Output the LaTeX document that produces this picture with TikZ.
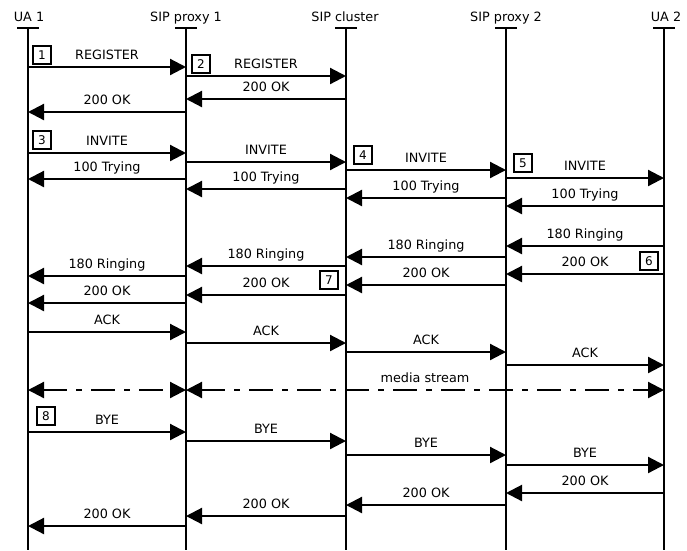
\documentclass[tikz,border=0pt]{standalone}
\usepackage{fontspec}
\setmainfont{DejaVu Sans}
\usetikzlibrary{arrows.meta}
\newcommand{\msgfont}{\fontsize{12.8}{15}\selectfont}
\newcommand{\numfont}{\fontsize{12}{14}\selectfont}
\tikzset{
  lifeline/.style={line width=2pt},
  topbar/.style={line width=2pt},
  msg/.style={-{Triangle[length=16pt,width=16pt]}, line width=2.2pt},
  stream/.style={{Triangle[length=16pt,width=16pt]}-{Triangle[length=16pt,width=16pt]}, line width=2.2pt, dash pattern=on 24pt off 9pt on 6pt off 9pt},
  msglabel/.style={midway, anchor=base, yshift=8pt, inner sep=0pt, font=\msgfont},
  actor/.style={anchor=base, inner sep=0pt, font=\msgfont},
  stepnum/.style={draw, line width=2pt, minimum size=18pt, inner sep=0pt, font=\numfont}
}
\begin{document}
\begin{tikzpicture}[x=1pt,y=-1pt]
  \useasboundingbox (0,0) rectangle (687,550);
  \coordinate (bottom) at (0,550);

  % parties
  \coordinate (ua1) at (28,28);
  \coordinate (px1) at (186,28);
  \coordinate (cl) at (346,28);
  \coordinate (px2) at (506,28);
  \coordinate (ua2) at (664,28);
  \node[actor] (ua1name) at (29,21) {UA 1};
  \node[actor] (px1name) at (186,21) {SIP proxy 1};
  \node[actor] (clname) at (345,21) {SIP cluster};
  \node[actor] (px2name) at (506,21) {SIP proxy 2};
  \node[actor] (ua2name) at (666,21) {UA 2};

  \draw[topbar] ([xshift=-11pt]ua1) -- ([xshift=11pt]ua1);
  \draw[topbar] ([xshift=-11pt]px1) -- ([xshift=11pt]px1);
  \draw[topbar] ([xshift=-11pt]cl) -- ([xshift=11pt]cl);
  \draw[topbar] ([xshift=-11pt]px2) -- ([xshift=11pt]px2);
  \draw[topbar] ([xshift=-11pt]ua2) -- ([xshift=11pt]ua2);
  \draw[lifeline] (ua1) -- (ua1 |- bottom);
  \draw[lifeline] (px1) -- (px1 |- bottom);
  \draw[lifeline] (cl) -- (cl |- bottom);
  \draw[lifeline] (px2) -- (px2 |- bottom);
  \draw[lifeline] (ua2) -- (ua2 |- bottom);

  % step numbers
  \node[stepnum] (n1) at (42,55) {1};
  \node[stepnum] (n2) at (201,64) {2};
  \node[stepnum] (n3) at (42,140) {3};
  \node[stepnum] (n4) at (363,155) {4};
  \node[stepnum] (n5) at (523,163) {5};
  \node[stepnum] (n6) at (649,261) {6};
  \node[stepnum] (n7) at (329,280) {7};
  \node[stepnum] (n8) at (46,416) {8};

  % registration
  \draw[msg] (ua1 |- 0,67) -- (px1 |- 0,67) node[msglabel] {REGISTER};
  \draw[msg] (px1 |- 0,76) -- (cl |- 0,76) node[msglabel] {REGISTER};
  \draw[msg] (cl |- 0,99) -- (px1 |- 0,99) node[msglabel] {200 OK};
  \draw[msg] (px1 |- 0,112) -- (ua1 |- 0,112) node[msglabel] {200 OK};

  % call setup
  \draw[msg] (ua1 |- 0,153) -- (px1 |- 0,153) node[msglabel] {INVITE};
  \draw[msg] (px1 |- 0,162) -- (cl |- 0,162) node[msglabel] {INVITE};
  \draw[msg] (cl |- 0,170) -- (px2 |- 0,170) node[msglabel] {INVITE};
  \draw[msg] (px2 |- 0,178) -- (ua2 |- 0,178) node[msglabel] {INVITE};
  \draw[msg] (px1 |- 0,179) -- (ua1 |- 0,179) node[msglabel] {100 Trying};
  \draw[msg] (cl |- 0,189) -- (px1 |- 0,189) node[msglabel] {100 Trying};
  \draw[msg] (px2 |- 0,198) -- (cl |- 0,198) node[msglabel] {100 Trying};
  \draw[msg] (ua2 |- 0,206) -- (px2 |- 0,206) node[msglabel] {100 Trying};

  \draw[msg] (ua2 |- 0,246) -- (px2 |- 0,246) node[msglabel] {180 Ringing};
  \draw[msg] (px2 |- 0,257) -- (cl |- 0,257) node[msglabel] {180 Ringing};
  \draw[msg] (cl |- 0,266) -- (px1 |- 0,266) node[msglabel] {180 Ringing};
  \draw[msg] (px1 |- 0,276) -- (ua1 |- 0,276) node[msglabel] {180 Ringing};
  \draw[msg] (ua2 |- 0,274) -- (px2 |- 0,274) node[msglabel] {200 OK};
  \draw[msg] (px2 |- 0,285) -- (cl |- 0,285) node[msglabel] {200 OK};
  \draw[msg] (cl |- 0,295) -- (px1 |- 0,295) node[msglabel] {200 OK};
  \draw[msg] (px1 |- 0,303) -- (ua1 |- 0,303) node[msglabel] {200 OK};

  \draw[msg] (ua1 |- 0,332) -- (px1 |- 0,332) node[msglabel] {ACK};
  \draw[msg] (px1 |- 0,343) -- (cl |- 0,343) node[msglabel] {ACK};
  \draw[msg] (cl |- 0,352) -- (px2 |- 0,352) node[msglabel] {ACK};
  \draw[msg] (px2 |- 0,365) -- (ua2 |- 0,365) node[msglabel] {ACK};

  % media
  \draw[stream] (ua1 |- 0,390) -- (px1 |- 0,390);
  \draw[stream] (px1 |- 0,390) -- (ua2 |- 0,390) node[msglabel] {media stream};

  % teardown
  \draw[msg] (ua1 |- 0,432) -- (px1 |- 0,432) node[msglabel] {BYE};
  \draw[msg] (px1 |- 0,441) -- (cl |- 0,441) node[msglabel] {BYE};
  \draw[msg] (cl |- 0,455) -- (px2 |- 0,455) node[msglabel] {BYE};
  \draw[msg] (px2 |- 0,465) -- (ua2 |- 0,465) node[msglabel] {BYE};
  \draw[msg] (ua2 |- 0,493) -- (px2 |- 0,493) node[msglabel] {200 OK};
  \draw[msg] (px2 |- 0,505) -- (cl |- 0,505) node[msglabel] {200 OK};
  \draw[msg] (cl |- 0,516) -- (px1 |- 0,516) node[msglabel] {200 OK};
  \draw[msg] (px1 |- 0,526) -- (ua1 |- 0,526) node[msglabel] {200 OK};
\end{tikzpicture}
\end{document}
